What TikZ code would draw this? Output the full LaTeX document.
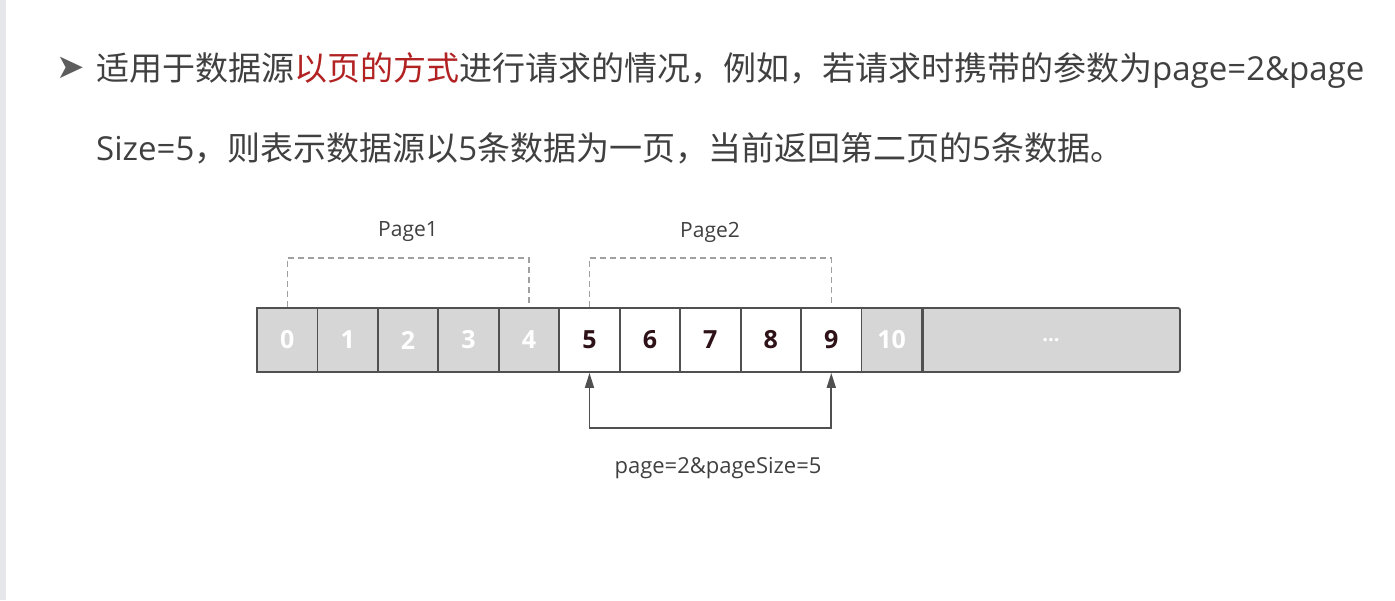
\documentclass[tikz,border=0pt]{standalone}
\usepackage{fontspec}
\setmainfont{Open Sans}
\newfontfamily\cjk{Noto Sans CJK SC}
\newfontfamily\latinfont{Open Sans}
\newfontfamily\symfont{DejaVu Sans}
\usetikzlibrary{arrows.meta}
\definecolor{txt}{HTML}{404040}
\definecolor{hl}{HTML}{B22222}
\definecolor{cellgray}{HTML}{D6D6D6}
\definecolor{border}{HTML}{505050}
\definecolor{numdark}{HTML}{2E1218}
\definecolor{dashgray}{HTML}{A0A0A0}
\definecolor{stripgray}{HTML}{E6E7EA}
\newcommand{\lat}[1]{{\latinfont #1}}
\tikzset{
  headtext/.style={anchor=base west, inner sep=0pt, text=txt, font=\cjk\fontsize{33}{38}\selectfont},
  cellbox/.style={draw=border, line width=1.8pt, minimum width=60.45pt, minimum height=64pt, inner sep=0pt, font=\bfseries\fontsize{25}{28}\selectfont},
  graycell/.style={cellbox, fill=cellgray, text=white},
  whitecell/.style={cellbox, fill=white, text=numdark},
  pagebrk/.style={draw=dashgray, line width=1.4pt, dash pattern=on 6pt off 4pt},
  lbl/.style={text=txt, inner sep=0pt, font=\fontsize{21}{24}\selectfont},
  reqarrow/.style={draw=border, line width=1.8pt, {Triangle[length=15pt,width=9pt]}-{Triangle[length=15pt,width=9pt]}}
}
\begin{document}
\begin{tikzpicture}[x=1pt,y=-1pt]
\useasboundingbox (0,0) rectangle (1395,600);
\fill[white] (0,0) rectangle (1395,600);
\fill[stripgray] (0,0) rectangle (6,600);
% header
\node[anchor=center, inner sep=0pt, text=txt!85, font=\symfont\fontsize{34}{38}\selectfont] (bul) at (71,68) {➤};
\node[headtext] (l1) at (96,80) {适用于数据源\textcolor{hl}{以页的方式}进行请求的情况，例如，若请求时携带的参数为\lat{page=2\&page}};
\node[headtext] (l2) at (96,160) {\lat{Size=5}，则表示数据源以\lat{5}条数据为一页，当前返回第二页的\lat{5}条数据。};
% cells
\foreach \i/\s in {0/graycell,1/graycell,2/graycell,3/graycell,4/graycell,5/whitecell,6/whitecell,7/whitecell,8/whitecell,9/whitecell,10/graycell}
  \node[\s] (c\i) at ({257+60.45*(\i+0.5)},340) {\i};
\node[graycell, minimum width=258pt, rounded corners=2pt, font=\bfseries\fontsize{20}{24}\selectfont] (more) at (1051,340) {...};
\draw[border, line width=1.8pt] (c10.north east) -- (c10.south east);
% page brackets
\draw[pagebrk] (c0.north) -- ++(0,-49) coordinate (p1l) -| (c4.north);
\draw[pagebrk] (c5.north) -- ++(0,-49) coordinate (p2l) -| (c9.north);
\node[lbl] (page1) at (408,232) {Page1};
\node[lbl] (page2) at (710,232) {Page2};
% request arrow
\coordinate (ql) at (c5.south |- 0,428);
\coordinate (qr) at (c9.south |- 0,428);
\draw[reqarrow] (c5.south) -- (ql) -- (qr) -- (c9.south);
\node[lbl, font=\fontsize{22}{26}\selectfont] (req) at (718,468) {page=2\&pageSize=5};
\end{tikzpicture}
\end{document}
